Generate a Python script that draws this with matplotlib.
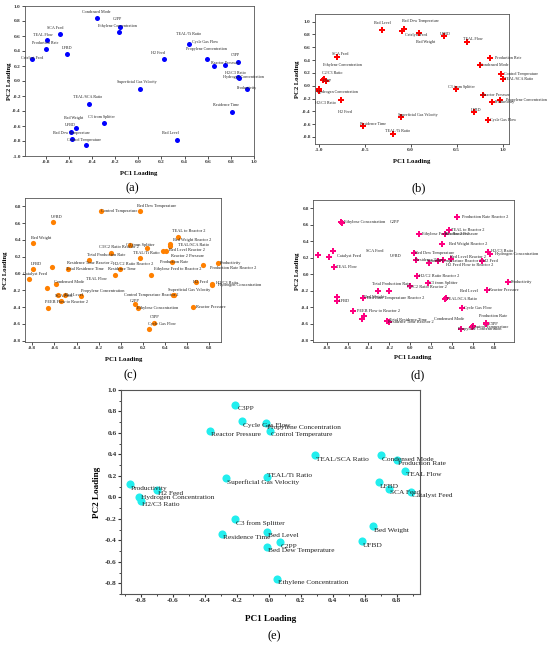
import numpy as np
import matplotlib
matplotlib.use('Agg')
import matplotlib.pyplot as plt
from matplotlib.ticker import MultipleLocator, AutoMinorLocator

plt.rcParams['font.family'] = ['Liberation Serif', 'DejaVu Serif']
plt.rcParams['axes.unicode_minus'] = False

# ---------------- (a) ----------------
names_a = ['Condensed Mode', 'C2PP', 'Ethylene Concentration', 'SCA Feed', 'TEAL Flow',
           'Production Rate', 'LFBD', 'Catalyst Feed', 'H2 Feed', 'TEAL/Ti Ratio',
           'Cycle Gas Flow', 'Propylene Concentration', 'Reactor Pressure', 'C3PP',
           'H2/C3 Ratio', 'Hydrogen Concentration', 'Productivity', 'Residence Time',
           'Superficial Gas Velocity', 'TEAL/SCA Ratio', 'C3 from Splitter', 'Bed Weight',
           'UFBD', 'Bed Dew Temperature', 'Control Temperature', 'Bed Level']
pc1_a = [-0.36, -0.16, -0.17, -0.68, -0.79, -0.80, -0.62, -0.92, 0.22, 0.44,
         0.59, 0.65, 0.75, 0.86, 0.86, 0.87, 0.94, 0.81,
         0.01, -0.43, -0.30, -0.54, -0.58, -0.57, -0.45, 0.33]
pc2_a = [0.84, 0.72, 0.66, 0.63, 0.55, 0.43, 0.36, 0.30, 0.29, 0.49,
         0.29, 0.20, 0.22, 0.26, 0.06, 0.04, -0.10, -0.41,
         -0.10, -0.30, -0.56, -0.62, -0.68, -0.77, -0.85, -0.78]

# ---------------- (b) ----------------
names_b = ['Bed Level', 'Bed Dew Temperature', 'Catalyst Feed', 'Bed Weight', 'UFBD',
           'TEAL Flow', 'SCA Feed', 'Ethylene Concentration', 'C2/C3 Ratio', 'C3PP',
           'Hydrogen Concentration', 'H2/C3 Ratio', 'H2 Feed', 'Residence Time',
           'Superficial Gas Velocity', 'TEAL/Ti Ratio', 'C3 from Splitter',
           'Reactor Pressure', 'Productivity', 'Propylene Concentration', 'LFBD',
           'Cycle Gas Flow', 'Production Rate', 'Condensed Mode', 'Control Temperature',
           'TEAL/SCA Ratio']
pc1_b = [-0.31, -0.07, -0.09, 0.09, 0.36, 0.61, -0.80, -0.94, -0.92, -0.95,
         -1.00, -1.00, -0.76, -0.52, -0.11, -0.19, 0.49, 0.79, 0.88, 0.97, 0.69,
         0.84, 0.86, 0.76, 0.98, 1.01]
pc2_b = [0.87, 0.88, 0.85, 0.82, 0.78, 0.69, 0.45, 0.10, 0.08, 0.09,
         -0.05, -0.09, -0.23, -0.63, -0.49, -0.75, -0.05, -0.15, -0.25, -0.22, -0.41,
         -0.53, 0.44, 0.32, 0.18, 0.10]

# ---------------- (c) ----------------
names_c = ['Control Temperature', 'Bed Dew Temperature', 'UFBD', 'Bed Weight', 'LFBD',
           'Catalyst Feed', 'TEAL Flow', 'Condensed Mode', 'Total Residence Time',
           'Residence Time Reactor 2', 'Total Production Rate', 'C3 from Splitter',
           'C3/C2 Ratio Reactor 2', 'TEAL/Ti Ratio', 'H2/C2 Ratio Reactor 2',
           'Residence Time', 'Ethylene Feed to Reactor 2', 'Production Rate',
           'Reactor 2 Pressure', 'Bed Level Reactor 2', 'TEAL/SCA Ratio',
           'Bed Weight Reactor 2', 'TEAL to Reactor 2', 'Productivity',
           'Production Rate Reactor 2', 'H2 Feed', 'H2/C3 Ratio', 'Hydrogen Concentration',
           'Superficial Gas Velocity', 'Control Temperature Reactor 2',
           'Propylene Concentration', 'SCA Feed', 'Bed Level', 'PEEB Flow to Reactor 2',
           'C2PP', 'Ethylene Concentration', 'Reactor Pressure', 'C3PP', 'Cycle Gas Flow',
           '', '']
pc1_c = [-0.18, 0.17, -0.61, -0.79, -0.79, -0.83, -0.62, -0.59, -0.48,
         -0.29, -0.09, 0.08, 0.24, 0.17, -0.01, -0.05, 0.27, 0.46,
         0.41, 0.38, 0.45, 0.45, 0.52, 0.88, 0.74, 0.68, 0.83, 0.83,
         0.48, 0.47, -0.36, -0.57, -0.50, -0.66, 0.13, 0.16, 0.65, 0.30, 0.26,
         -0.67, -0.54]
pc2_c = [0.75, 0.75, 0.62, 0.36, 0.05, -0.06, 0.08, -0.13, 0.06,
         0.16, 0.24, 0.34, 0.30, 0.18, 0.06, -0.02, -0.02, 0.14,
         0.27, 0.27, 0.33, 0.35, 0.44, 0.12, 0.10, -0.10, -0.13, -0.14,
         -0.25, -0.26, -0.27, -0.26, -0.26, -0.41, -0.36, -0.41, -0.40, -0.59, -0.66,
         -0.17, -0.33]

# ---------------- (d) ----------------
names_d = ['Ethylene Concentration', 'C2PP', 'UFBD', 'Catalyst Feed', 'SCA Feed',
           'TEAL Flow', 'LFBD', 'Bed Weight', 'Bed Dew Temperature Reactor 2',
           'Total Production Rate', '', 'PEEB Flow to Reactor 2', 'Condensed Mode', '',
           'Total Residence Time', 'Residence Time Reactor 2', 'Production Rate Reactor 2',
           'TEAL to Reactor 2', 'Ethylene Feed to Reactor 2', 'Reactor 2 Pressure',
           'Bed Weight Reactor 2', 'Bed Dew Temperature', 'Residence Time',
           'H2 Feed Flow to Reactor 2', 'Control Temperature Reactor 2', '',
           'Bed Level Reactor 2', 'H2/C3 Ratio', 'Hydrogen Concentration', 'H2 Feed',
           'H2/C2 Ratio Reactor 2', 'Productivity', 'C3/C2 Ratio Reactor 2',
           'C3 from Splitter', 'Reactor Pressure', 'Bed Level', 'TEAL/SCA Ratio',
           'Cycle Gas Flow', 'Production Rate', 'C3PP', 'Control Temperature',
           'Propylene Concentration', '']
pc1_d = [-0.66, -0.65, -0.88, -0.78, -0.74, -0.73, -0.70, -0.70, -0.45,
         -0.20, -0.31, -0.55, -0.44, -0.46, -0.22, -0.20, 0.45,
         0.37, 0.08, 0.33, 0.30, 0.03, 0.05, 0.18, 0.26, 0.31,
         0.39, 0.74, 0.76, 0.68, 0.06, 0.93, 0.00, 0.17, 0.73, 0.34, 0.33,
         0.49, 0.72, 0.72, 0.60, 0.48, 0.59]
pc2_d = [0.63, 0.62, 0.23, 0.21, 0.28, 0.09, -0.32, -0.28, -0.29,
         -0.20, -0.20, -0.44, -0.50, -0.54, -0.56, -0.58, 0.70,
         0.54, 0.49, 0.49, 0.37, 0.26, 0.17, 0.14, 0.16, 0.17,
         0.19, 0.27, 0.25, 0.16, -0.02, -0.09, -0.14, -0.11, -0.19, -0.29, -0.30,
         -0.41, -0.59, -0.60, -0.63, -0.66, -0.64]

# ---------------- (e) ----------------
names_e = ['C3PP', 'Cycle Gas Flow', 'Propylene Concentration', 'Reactor Pressure',
           'Control Temperature', 'TEAL/SCA Ratio', 'Condensed Mode', 'Production Rate',
           'TEAL Flow', 'LFBD', 'SCA Feed', 'Catalyst Feed', 'TEAL/Ti Ratio',
           'Superficial Gas Velocity', 'Productivity', 'H2 Feed', 'Hydrogen Concentration',
           'H2/C3 Ratio', 'C3 from Splitter', 'Bed Level', 'Residence Time', 'C2PP',
           'Bed Dew Temperature', 'Bed Weight', 'UFBD', 'Ethylene Concentration']
pc1_e = [-0.21, -0.17, -0.02, -0.37, 0.01, 0.29, 0.70, 0.80, 0.85, 0.69, 0.75, 0.89,
         -0.01, -0.27, -0.87, -0.70, -0.81, -0.80, -0.21, -0.01, -0.29, 0.07, -0.01,
         0.65, 0.58, 0.05]
pc2_e = [0.86, 0.71, 0.69, 0.62, 0.62, 0.39, 0.39, 0.35, 0.25, 0.14, 0.08, 0.05,
         0.19, 0.18, 0.12, 0.07, 0.00, -0.03, -0.20, -0.32, -0.34, -0.42, -0.46,
         -0.27, -0.41, -0.76]

# label offsets in pixels (dx, dy), centred text
off_a = {'Condensed Mode': (0, 6), 'C2PP': (-2, 8), 'Ethylene Concentration': (-1, 6),
         'SCA Feed': (-5, 6), 'TEAL Flow': (-4, 5), 'Production Rate': (-1, 6),
         'LFBD': (0, 6), 'Catalyst Feed': (0, 0), 'H2 Feed': (-6, 6),
         'TEAL/Ti Ratio': (-1, 10), 'Cycle Gas Flow': (-2, 17),
         'Propylene Concentration': (-7, 17), 'Reactor Pressure': (0, 1), 'C3PP': (-2, 6),
         'H2/C3 Ratio': (-2, 3), 'Hydrogen Concentration': (4, 1), 'Productivity': (0, 0),
         'Residence Time': (-6, 7), 'Superficial Gas Velocity': (-3, 6),
         'TEAL/SCA Ratio': (-1, 6), 'C3 from Splitter': (-2, 6), 'Bed Weight': (-2, 9),
         'UFBD': (-1, 7), 'Bed Dew Temperature': (-1, 6), 'Control Temperature': (-2, 5),
         'Bed Level': (-6, 6)}
off_b = {'Bed Level': (0, 7), 'Bed Dew Temperature': (16, 8), 'Catalyst Feed': (14, -4),
         'Bed Weight': (7, -9), 'UFBD': (2, 2), 'TEAL Flow': (6, 3), 'SCA Feed': (3, 3),
         'Ethylene Concentration': (18, 14), 'C2/C3 Ratio': (6, 8), 'C3PP': (4, -1),
         'Hydrogen Concentration': (19, -3), 'H2/C3 Ratio': (7, -12), 'H2 Feed': (4, -12),
         'Residence Time': (10, 2), 'Superficial Gas Velocity': (17, 2),
         'TEAL/Ti Ratio': (4, 3), 'C3 from Splitter': (6, 2), 'Reactor Pressure': (13, 0),
         'Productivity': (13, 0), 'Propylene Concentration': (27, 0), 'LFBD': (2, 2),
         'Cycle Gas Flow': (15, 0), 'Production Rate': (18, 0), 'Condensed Mode': (14, 0),
         'Control Temperature': (20, 0), 'TEAL/SCA Ratio': (15, 0)}
off_c = {'Control Temperature': (18, 0), 'Bed Dew Temperature': (17, 5), 'UFBD': (3, 5),
         'Bed Weight': (8, 5), 'LFBD': (3, 5), 'Catalyst Feed': (6, 5),
         'TEAL Flow': (44, -12), 'Condensed Mode': (14, 2), 'Total Residence Time': (17, 0),
         'Residence Time Reactor 2': (1, -3), 'Total Production Rate': (-5, -2),
         'C3 from Splitter': (11, 0), 'C3/C2 Ratio Reactor 2': (-28, 1),
         'TEAL/Ti Ratio': (7, 5), 'H2/C2 Ratio Reactor 2': (14, 5), 'Residence Time': (7, 6),
         'Ethylene Feed to Reactor 2': (27, 6), 'Production Rate': (3, 0),
         'Reactor 2 Pressure': (21, -5), 'Bed Level Reactor 2': (24, 1),
         'TEAL/SCA Ratio': (23, 1), 'Bed Weight Reactor 2': (22, 4),
         'TEAL to Reactor 2': (11, 6), 'Productivity': (13, 0),
         'Production Rate Reactor 2': (31, -3), 'H2 Feed': (4, 0), 'H2/C3 Ratio': (15, 1),
         'Hydrogen Concentration': (27, 0), 'Superficial Gas Velocity': (15, 5),
         'Control Temperature Reactor 2': (-21, 0), 'Propylene Concentration': (22, 5),
         'SCA Feed': (6, -1), 'Bed Level': (8, 0), 'PEEB Flow to Reactor 2': (19, 6),
         'C2PP': (0, 3), 'Ethylene Concentration': (19, 0), 'Reactor Pressure': (18, 0),
         'C3PP': (1, 6), 'Cycle Gas Flow': (12, 5)}
off_d = {'Ethylene Concentration': (23, 0), 'C2PP': (52, 1), 'UFBD': (77, -1),
         'Catalyst Feed': (20, 1), 'SCA Feed': (42, 0), 'TEAL Flow': (13, 0),
         'LFBD': (7, 0), 'Bed Weight': (37, 0), 'Bed Dew Temperature Reactor 2': (32, 0),
         'Total Production Rate': (2, 7), 'PEEB Flow to Reactor 2': (26, 0),
         'Condensed Mode': (85, -3), 'Total Residence Time': (21, 1),
         'Residence Time Reactor 2': (21, 0), 'Production Rate Reactor 2': (28, 0),
         'TEAL to Reactor 2': (19, 0), 'Ethylene Feed to Reactor 2': (27, 0),
         'Reactor 2 Pressure': (17, 0), 'Bed Weight Reactor 2': (26, 0),
         'Bed Dew Temperature': (21, 0), 'Residence Time': (13, 0),
         'H2 Feed Flow to Reactor 2': (40, -2), 'Control Temperature Reactor 2': (17, 0),
         'Bed Level Reactor 2': (17, 2), 'H2/C3 Ratio': (14, 1),
         'Hydrogen Concentration': (27, 0), 'H2 Feed': (9, 0),
         'H2/C2 Ratio Reactor 2': (23, 0), 'Productivity': (14, 0),
         'C3/C2 Ratio Reactor 2': (17, -1), 'C3 from Splitter': (15, 0),
         'Reactor Pressure': (17, 0), 'Bed Level': (23, 7), 'TEAL/SCA Ratio': (17, 0),
         'Cycle Gas Flow': (16, 0), 'Production Rate': (7, 7), 'C3PP': (8, 0),
         'Control Temperature': (17, -1), 'Propylene Concentration': (19, 0)}
off_e = {'C3PP': (2, -3), 'TEAL/Ti Ratio': (0, 1), 'Hydrogen Concentration': (2, 0)}

W, H = 550, 646
fig = plt.figure(figsize=(W / 100, H / 100), dpi=100)


def box(l, t, r, b):
    return [l / W, 1 - b / H, (r - l) / W, (b - t) / H]


def ftext(x, y, s, **kw):
    fig.text(x / W, 1 - y / H, s, ha='center', va='center', **kw)


def panel(rect, xlim, ylim, xstep, ystep, names, pc1, pc2, offs, color, marker, size,
          fs, tfs, ha='center', default=(0, 5), lw=0.6, minor=False):
    ax = fig.add_axes(rect)
    ax.scatter(pc1, pc2, s=size, c=color, marker=marker, linewidths=0, zorder=3)
    for n, x, y in zip(names, pc1, pc2):
        if not n:
            continue
        dx, dy = offs.get(n, default)
        ax.annotate(n, (x, y), xytext=(dx, dy), textcoords='offset pixels',
                    ha=ha, va='center', fontsize=fs, color='#222222', zorder=4)
    ax.set_xlim(*xlim)
    ax.set_ylim(*ylim)
    ax.xaxis.set_major_locator(MultipleLocator(xstep))
    ax.yaxis.set_major_locator(MultipleLocator(ystep))
    ax.xaxis.set_major_formatter('{x:.1f}')
    ax.yaxis.set_major_formatter('{x:.1f}')
    if minor:
        ax.xaxis.set_minor_locator(AutoMinorLocator(2))
        ax.yaxis.set_minor_locator(AutoMinorLocator(2))
    ax.tick_params(which='major', direction='out', length=2, width=lw, pad=1,
                   labelsize=tfs, colors='#333333')
    ax.tick_params(which='minor', direction='out', length=1.2, width=lw * 0.8,
                   colors='#333333')
    for lab in ax.get_xticklabels() + ax.get_yticklabels():
        lab.set_fontweight('bold')
    for sp in ax.spines.values():
        sp.set_linewidth(lw)
        sp.set_color('#555555')
    return ax


panel(box(25, 6, 254, 156), (-0.98, 1.0), (-1.0, 1.0), 0.2, 0.2,
      names_a, pc1_a, pc2_a, off_a, '#0000FF', 'o', 13, 3, 3.8)
panel(box(315, 14, 509, 144), (-1.04, 1.07), (-0.91, 1.12), 0.5, 0.2,
      names_b, pc1_b, pc2_b, off_b, '#FF0000', 'P', 20, 3, 3.8)
panel(box(25, 198, 221, 342), (-0.866, 0.907), (-0.815, 0.9), 0.2, 0.2,
      names_c, pc1_c, pc2_c, off_c, '#FF8000', 'o', 14, 3.2, 3.6)
panel(box(313, 200, 514, 342), (-0.93, 0.99), (-0.82, 0.9), 0.2, 0.2,
      names_d, pc1_d, pc2_d, off_d, '#FF0080', 'P', 20, 3.2, 3.6)
panel(box(121, 390, 420, 594), (-0.925, 0.946), (-0.9, 1.0), 0.2, 0.2,
      names_e, pc1_e, pc2_e, off_e, '#22EEEE', 'o', 34, 5.3, 5.3,
      ha='left', default=(1, -4), lw=0.8, minor=True)

# axis titles and panel tags
ftext(139, 173, 'PC1 Loading', fontsize=4.8, fontweight='bold')
ftext(10, 81, 'PC2 Loading', fontsize=4.8, fontweight='bold', rotation=90)
ftext(132, 188, '(a)', fontsize=9)
ftext(412, 162, 'PC1 Loading', fontsize=4.8, fontweight='bold')
ftext(297, 79, 'PC2 Loading', fontsize=4.8, fontweight='bold', rotation=90)
ftext(419, 188, '(b)', fontsize=9)
ftext(124, 359, 'PC1 Loading', fontsize=4.8, fontweight='bold')
ftext(6, 270, 'PC2 Loading', fontsize=4.8, fontweight='bold', rotation=90)
ftext(130, 375, '(c)', fontsize=9)
ftext(413, 358, 'PC1 Loading', fontsize=4.8, fontweight='bold')
ftext(297, 271, 'PC2 Loading', fontsize=4.8, fontweight='bold', rotation=90)
ftext(418, 375, '(d)', fontsize=9)
ftext(271, 619, 'PC1 Loading', fontsize=6.6, fontweight='bold')
ftext(97, 492, 'PC2 Loading', fontsize=6.6, fontweight='bold', rotation=90)
ftext(274, 636, '(e)', fontsize=9)

fig.savefig('out.png', dpi=100)
